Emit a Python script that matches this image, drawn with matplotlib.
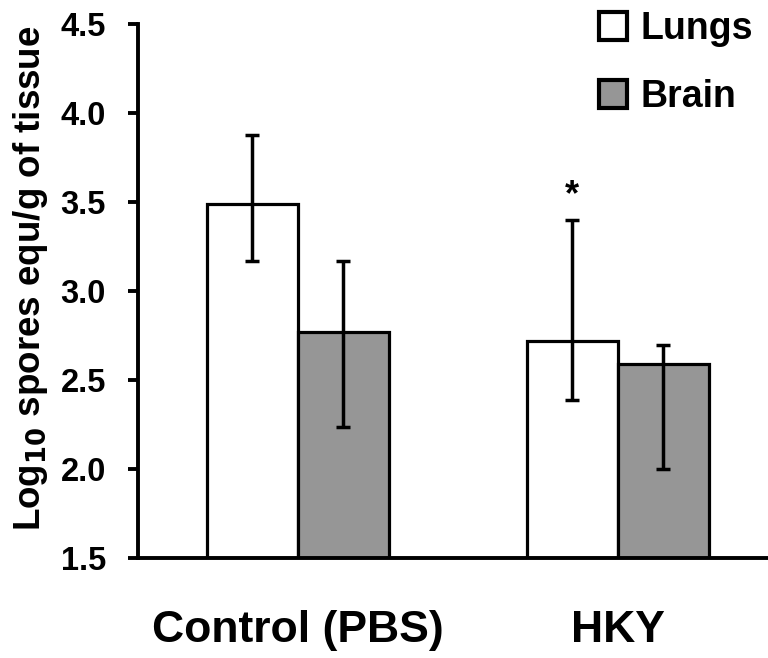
import numpy as np
import matplotlib
matplotlib.use("Agg")
from matplotlib import pyplot as plt

plt.rcParams['font.family'] = ['Liberation Sans', 'DejaVu Sans']
plt.rcParams['font.weight'] = 'bold'

groups = ['Control (PBS)', 'HKY']
lungs = [3.49, 2.72]
lungs_lo = [3.17, 2.39]
lungs_hi = [3.88, 3.40]
brain = [2.77, 2.59]
brain_lo = [2.24, 2.00]
brain_hi = [3.17, 2.70]
yticks = [1.5, 2.0, 2.5, 3.0, 3.5, 4.0, 4.5]

x = np.arange(len(groups))
w = 0.285

fig = plt.figure(figsize=(7.68, 6.58), dpi=100)
ax = fig.add_axes([0.1797, 0.1515, 0.8203, 0.8115])

lerr = [np.array(lungs) - np.array(lungs_lo), np.array(lungs_hi) - np.array(lungs)]
berr = [np.array(brain) - np.array(brain_lo), np.array(brain_hi) - np.array(brain)]

ax.bar(x - w / 2, np.array(lungs) - 1.5, w, bottom=1.5, color='white', edgecolor='black',
       linewidth=2.3, label='Lungs', yerr=lerr,
       error_kw=dict(ecolor='black', elinewidth=2.5, capsize=4.8, capthick=2.5))
ax.bar(x + w / 2, np.array(brain) - 1.5, w, bottom=1.5, color='#969696', edgecolor='black',
       linewidth=2.3, label='Brain', yerr=berr,
       error_kw=dict(ecolor='black', elinewidth=2.5, capsize=4.8, capthick=2.5))

# significance mark
ax.annotate('*', (x[1] - w / 2, lungs_hi[1]), xytext=(0, 5), textcoords='offset points',
            ha='center', va='bottom', fontsize=26, fontweight='bold')

ax.set_ylim(1.5, 4.5)
ax.set_xlim(-0.5, 1.47)
ax.set_yticks(yticks)
ax.set_yticklabels(['%.1f' % t for t in yticks])
ax.set_xticks(x)
ax.set_xticklabels(groups, fontsize=32, fontweight='bold')
ax.tick_params(axis='y', labelsize=23.5, width=2.8, length=7, pad=16)
ax.tick_params(axis='x', length=0, pad=37)
ax.set_ylabel('Log$_{\\mathbf{10}}$ spores equ/g of tissue', fontsize=26.5, fontweight='bold')
ax.yaxis.set_label_coords(-0.14, 0.525)

for s in ['top', 'right']:
    ax.spines[s].set_visible(False)
for s in ['left', 'bottom']:
    ax.spines[s].set_linewidth(2.8)

leg = ax.legend(loc='upper left', bbox_to_anchor=(0.78, 0.983), bbox_transform=fig.transFigure,
                frameon=False, fontsize=27, handlelength=0.75, handleheight=0.75,
                handletextpad=0.35, labelspacing=0.85, borderpad=0, borderaxespad=0)
for t in leg.get_texts():
    t.set_fontweight('bold')
for p in leg.get_patches():
    p.set_linewidth(3)

fig.savefig('out.png', dpi=100)
